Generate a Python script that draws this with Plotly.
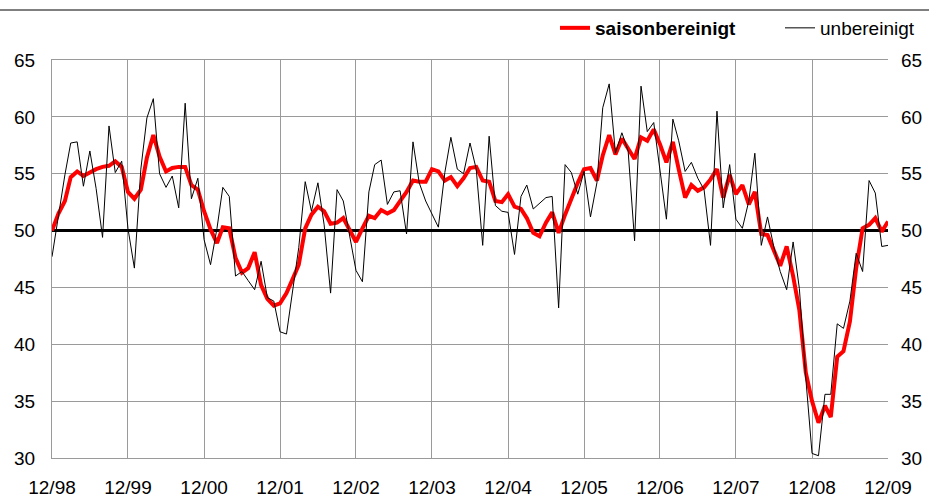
import pandas as pd
import plotly.graph_objects as go

START_MONTH = "1998-12-01"
REF_LEVEL = 50

unbereinigt = [
    47.7, 51.4, 54.9, 57.7, 57.8, 53.9, 57.0, 53.7, 49.4, 59.2, 55.1, 56.1,
    50.2, 46.7, 55.4, 59.9, 61.6, 55.0, 53.8, 54.8, 52.0, 61.2, 52.8, 54.6,
    49.2, 47.0, 50.2, 53.8, 53.0, 46.0, 46.4, 45.6, 44.8, 47.3, 44.1, 43.8,
    41.1, 40.9, 45.0, 48.5, 54.3, 51.7, 54.2, 50.5, 44.5, 53.6, 52.6, 49.6,
    46.5, 45.5, 53.4, 55.8, 56.2, 52.3, 53.4, 53.5, 49.7, 57.8, 54.2, 52.6,
    51.4, 50.3, 55.1, 58.2, 55.4, 55.0, 57.7, 55.4, 48.7, 58.3, 52.2, 51.7,
    51.6, 47.9, 53.0, 54.0, 51.9, 52.4, 52.9, 53.0, 43.2, 55.8, 55.1, 53.2,
    55.2, 51.2, 54.2, 60.8, 62.9, 56.8, 58.6, 57.0, 49.1, 62.7, 58.7, 59.5,
    55.5, 51.0, 59.8, 57.9, 55.2, 56.0, 54.6, 53.6, 48.7, 60.5, 52.0, 55.8,
    51.0, 50.2, 52.6, 56.8, 48.7, 51.2, 48.5, 46.4, 44.8, 49.0, 44.9, 37.0,
    30.4, 30.2, 35.6, 35.6, 41.8, 41.4, 43.8, 48.0, 46.4, 54.4, 53.3, 48.6,
    48.7,
]

saisonbereinigt = [
    50.0, 51.5, 52.6, 54.7, 55.2, 54.8, 55.1, 55.4, 55.6, 55.7, 56.1, 55.6,
    53.4, 52.8, 53.6, 56.4, 58.4, 56.5, 55.2, 55.5, 55.6, 55.6, 54.0, 53.6,
    51.7, 50.1, 48.9, 50.3, 50.2, 47.6, 46.3, 46.7, 48.1, 45.2, 44.0, 43.4,
    43.6, 44.5, 45.8, 47.0, 50.2, 51.4, 52.1, 51.7, 50.6, 50.7, 51.1, 50.1,
    49.0, 50.2, 51.3, 51.1, 51.8, 51.5, 51.8, 52.6, 53.4, 54.4, 54.3, 54.3,
    55.4, 55.2, 54.4, 54.7, 53.9, 54.6, 55.5, 55.6, 54.4, 54.3, 52.6, 52.5,
    53.2, 52.1, 51.9, 51.1, 49.8, 49.5, 50.7, 51.6, 49.8, 51.4, 52.8, 54.2,
    55.4, 55.5, 54.4, 56.6, 58.4, 56.7, 58.1, 57.2, 56.3, 58.2, 57.9, 58.9,
    57.6, 56.0, 57.8, 55.4, 52.9, 54.0, 53.5, 53.8, 54.5, 55.4, 52.9, 54.9,
    53.2, 54.0, 52.3, 53.4, 49.7, 49.6, 48.2, 46.9, 48.6, 46.0, 43.0, 37.5,
    35.0, 33.1, 34.6, 33.6, 38.9, 39.4, 42.0, 46.7, 50.2, 50.5, 51.1, 49.9,
    50.8,
]

months = pd.date_range(START_MONTH, periods=len(saisonbereinigt), freq="MS")

GRID = "#9a9a9a"
FONT = "Liberation Sans, Arial, sans-serif"

fig = go.Figure()

fig.add_trace(go.Scatter(
    x=[months[0], months[-1]], y=[REF_LEVEL, REF_LEVEL], mode="lines",
    line=dict(color="black", width=3), showlegend=False, hoverinfo="skip",
))
fig.add_trace(go.Scatter(
    x=months, y=saisonbereinigt, mode="lines", name="<b>saisonbereinigt</b>",
    line=dict(color="#ff0000", width=4),
))
fig.add_trace(go.Scatter(
    x=months, y=unbereinigt, mode="lines", name="unbereinigt",
    line=dict(color="black", width=1), yaxis="y2",
))

ax_common = dict(range=[30, 65], dtick=5, tick0=30, showgrid=True,
                 gridcolor=GRID, gridwidth=1, zeroline=False, automargin=False,
                 tickfont=dict(size=19, color="black", family=FONT),
                 ticklabelstandoff=12, fixedrange=True)

fig.update_layout(
    width=929, height=498,
    margin=dict(l=52, r=41, t=60, b=40, autoexpand=False),
    paper_bgcolor="white", plot_bgcolor="white",
    font=dict(family=FONT, size=19, color="black"),
    xaxis=dict(
        range=[months[0], months[-1]], tick0=START_MONTH, dtick="M12",
        tickformat="%m/%y", showgrid=True, gridcolor=GRID, gridwidth=1,
        showline=True, linecolor=GRID, linewidth=1, mirror=True,
        zeroline=False, ticks="", ticklabelstandoff=12, automargin=False,
        tickfont=dict(size=19, color="black", family=FONT), fixedrange=True,
    ),
    yaxis=dict(**ax_common, showline=True, linecolor=GRID, linewidth=1, side="left"),
    yaxis2=dict(**ax_common, overlaying="y", side="right", showline=False),
    legend=dict(
        orientation="h",
        x=(555 - 52) / 836, xanchor="left", y=1 + (60 - 28) / 398, yanchor="middle",
        font=dict(size=19, color="black", family=FONT),
        bgcolor="rgba(0,0,0,0)", entrywidth=180, entrywidthmode="pixels",
        itemclick=False, itemdoubleclick=False,
    ),
    shapes=[dict(
        type="line", xref="paper", yref="paper",
        x0=-52 / 836, x1=(929 - 52) / 836, y0=1 + 50 / 398, y1=1 + 50 / 398,
        line=dict(color="black", width=1),
    )],
)

fig.write_html("out.html", config={"displayModeBar": False},
               post_script="document.body.style.margin='0';")
